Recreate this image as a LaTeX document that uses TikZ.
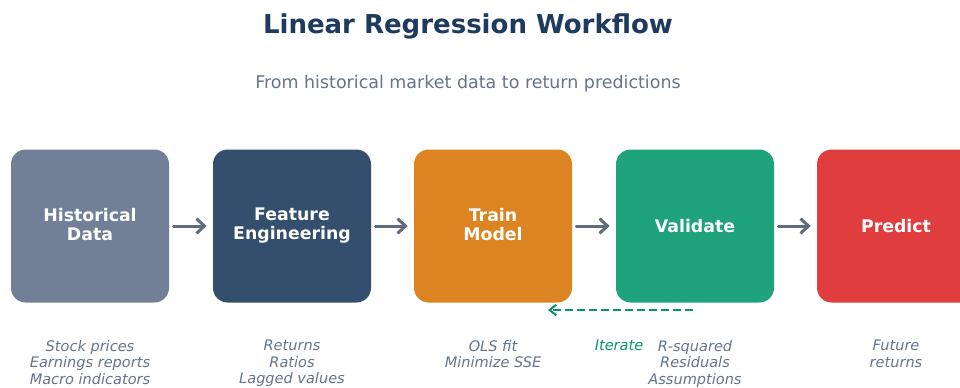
\documentclass[tikz,border=0pt]{standalone}
\usepackage{fontspec}
\setmainfont{DejaVu Sans}
\usepackage{xcolor}
\usepackage{tikz}
\usetikzlibrary{arrows.meta,positioning}

\definecolor{headnavy}{HTML}{1E3A5F}
\definecolor{slate}{HTML}{64748B}
\definecolor{arrowgray}{HTML}{5F6B7F}
\definecolor{datagray}{HTML}{718096}
\definecolor{featblue}{HTML}{344E6E}
\definecolor{trainorange}{HTML}{DB8421}
\definecolor{validgreen}{HTML}{1FA37B}
\definecolor{predred}{HTML}{E03E3E}
\definecolor{loopgreen}{HTML}{059669}

% strut that keeps the stage labels optically centred
\newcommand{\stagestrut}{\rule[-2.3pt]{0pt}{14.3pt}}

\begin{document}
\begin{tikzpicture}[x=0.75pt,y=-0.75pt,
  stage/.style={rounded corners=11pt, minimum width=118.5pt, minimum height=114.75pt,
    inner sep=0pt, text=white, align=center, font=\bfseries\fontsize{13}{14.3}\selectfont,
    execute at begin node=\stagestrut, execute at end node=\stagestrut},
  note/.style={align=center, text=slate, inner sep=0pt, font=\itshape\fontsize{10.9}{12.4}\selectfont},
  flow/.style={-{Straight Barb[length=6pt,width=11pt]}, line width=2.25pt, arrowgray,
    line cap=round, shorten <=3pt, shorten >=4.5pt}
]
\useasboundingbox (0,0) rectangle (960,387);

% title
\node[anchor=base, text=headnavy, font=\bfseries\fontsize{19.5}{22}\selectfont] (title) at (468,33) {Linear Regression Workflow};
\node[anchor=base, text=slate, font=\fontsize{13.1}{15}\selectfont] (subtitle) at (468,88) {From historical market data to return predictions};

% stages
\node[stage, fill=datagray] (hist) at (90,226) {Historical\\Data};
\node[stage, fill=featblue] (feat) at (292,226) {Feature\\Engineering};
\node[stage, fill=trainorange] (train) at (493,226) {Train\\Model};
\node[stage, fill=validgreen] (valid) at (695,226) {Validate};
\node[stage, fill=predred] (pred) at (896,226) {Predict};

\draw[flow] (hist) -- (feat);
\draw[flow] (feat) -- (train);
\draw[flow] (train) -- (valid);
\draw[flow] (valid) -- (pred);

% feedback loop
\coordinate (loopstart) at (693,310);
\coordinate (loopend) at (548,310);
\draw[-{Straight Barb[length=5pt,width=8pt]}, loopgreen, line width=1.5pt, dash pattern=on 6pt off 3pt] (loopstart) -- (loopend);
\node[note, text=loopgreen, anchor=north] (iter) at (619,340) {Iterate};

% notes under stages
\node[note, anchor=north] (histnote) at (90,340) {Stock prices\\Earnings reports\\Macro indicators};
\node[note, anchor=north] (featnote) at (292,340) {Returns\\Ratios\\Lagged values};
\node[note, anchor=north] (trainnote) at (493,340) {OLS fit\\Minimize SSE};
\node[note, anchor=north] (validnote) at (695,340) {R-squared\\Residuals\\Assumptions};
\node[note, anchor=north] (prednote) at (896,340) {Future\\returns};
\end{tikzpicture}
\end{document}
